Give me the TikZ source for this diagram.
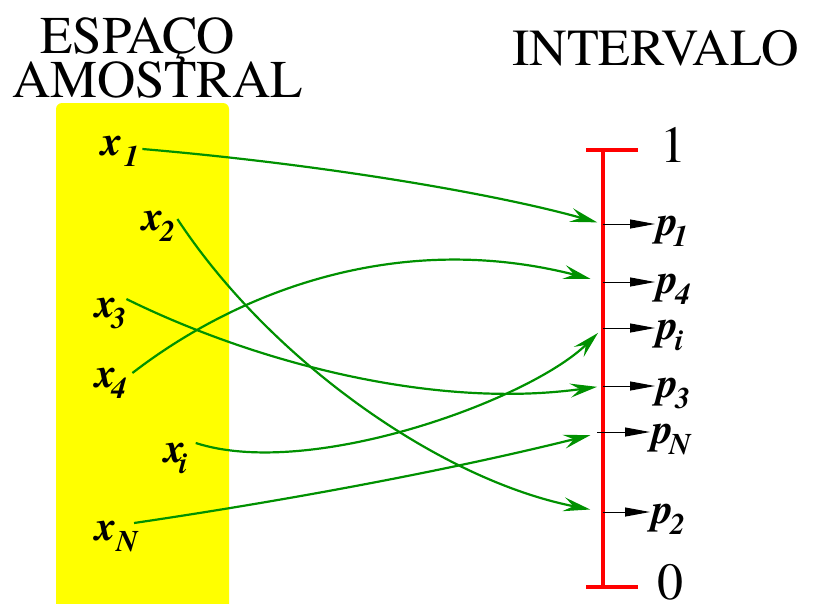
\documentclass[tikz,border=0pt]{standalone}
\usepackage{fontspec}
\setmainfont{texgyretermes}[Extension=.otf, UprightFont=*-regular, BoldFont=*-bold,
  ItalicFont=*-italic, BoldItalicFont=*-bolditalic]
\usetikzlibrary{positioning,arrows.meta}
\definecolor{mapc}{RGB}{0,145,0}
\definecolor{boxc}{RGB}{255,255,0}
\definecolor{axisc}{RGB}{255,0,0}
\newcommand\lsub[2][-2pt]{\kern#1\raisebox{-11pt}{\fontsize{30}{30}\selectfont #2}}
\tikzset{
  title/.style   = {anchor=base west, inner sep=0pt, font=\fontsize{53}{53}\selectfont},
  elem/.style    = {anchor=base west, inner sep=0pt,
                    font=\fontsize{42}{42}\selectfont\bfseries\itshape},
  prob/.style    = {inner ysep=0pt, inner xsep=2pt, text height=22pt, text depth=0pt,
                    font=\fontsize{42}{42}\selectfont\bfseries\itshape},
  map/.style     = {draw=mapc, line width=2.2pt, -{Stealth[length=27pt,width=14pt,inset=10pt]}},
  tickarr/.style = {draw=black, line width=1pt, -{Triangle[length=25pt,width=9pt]}},
  axis/.style    = {draw=axisc, line width=3.8pt},
}
\begin{document}
\begin{tikzpicture}[x=1pt, y=-1pt]
\useasboundingbox (0,0) rectangle (821,603);

% sample space
\fill[boxc, rounded corners=6pt] (56,103) rectangle (229,615);
\node[title] (esp) at (40,53) {ESPAÇO};
\node[title] (amo) at (12,97) {AMOSTRAL};

\node[elem] (x1) at (101,155) {x\lsub[2pt]{1}};
\node[elem] (x2) at (142,230) {x\lsub[-3pt]{2}};
\node[elem] (x3) at (95,317)  {x\lsub[-5pt]{3}};
\node[elem] (x4) at (95,387)  {x\lsub[-5pt]{4}};
\node[elem] (xi) at (164,462) {x\lsub[-6pt]{i}};
\node[elem] (xN) at (95,540)  {x\lsub[0pt]{N}};

% interval
\node[title, font=\fontsize{52}{52}\selectfont] (int) at (512,65) {INTERVALO};
\coordinate (top) at (603,150);
\coordinate (bot) at (603,587);
\coordinate (t1) at (603,224);
\coordinate (t4) at (603,282);
\coordinate (ti) at (603,328);
\coordinate (t3) at (603,386);
\coordinate (tN) at (603,432);
\coordinate (t2) at (603,512);

\draw[axis] (top) -- (bot);
\draw[axis] ([xshift=-17pt]top) -- ([xshift=35pt]top);
\draw[axis] ([xshift=-17pt]bot) -- ([xshift=35pt]bot);
\node[title, font=\fontsize{52}{52}\selectfont] (one) at (660,162) {1};
\node[title, font=\fontsize{52}{52}\selectfont] (zero) at (657,599) {0};

\node[prob, right=52pt of t1] (p1) {p\lsub[-5pt]{1}};
\node[prob, right=52pt of t4] (p4) {p\lsub[-3pt]{4}};
\node[prob, right=52pt of ti] (pi) {p\lsub[-3pt]{i}};
\node[prob, right=52pt of t3] (p3) {p\lsub[-3pt]{3}};
\node[prob, right=47pt of tN] (pN) {p\lsub[-4pt]{N}};
\node[prob, right=47pt of t2] (p2) {p\lsub[-3pt]{2}};

\draw[tickarr] (t1) -- (p1.west);
\draw[tickarr] (t4) -- (p4.west);
\draw[tickarr] (ti) -- (pi.west);
\draw[tickarr] (t3) -- (p3.west);
\draw[tickarr] ([xshift=-6pt]tN) -- (pN.west);
\draw[tickarr] (t2) -- (p2.west);

% the mapping
\draw[map, shorten >=6pt] ([shift={(3pt,6pt)}]x1.base east)
  .. controls (330,165) and (500,195) .. (t1);
\draw[map, shorten >=13pt] ([shift={(2pt,11pt)}]x2.base east)
  .. controls (270,360) and (440,480) .. (t2);
\draw[map, shorten >=6pt] ([shift={(0pt,18pt)}]x3.base east)
  .. controls (250,360) and (430,410) .. (t3);
\draw[map, shorten >=13pt] ([shift={(6pt,14pt)}]x4.base east)
  .. controls (240,290) and (400,230) .. (t4);
\draw[map, shorten >=7pt] ([shift={(8pt,19pt)}]xi.base east)
  .. controls (310,480) and (530,400) .. (ti);
\draw[map, shorten >=13pt] ([shift={(-4pt,17pt)}]xN.base east)
  .. controls (290,500) and (450,470) .. (tN);

\end{tikzpicture}
\end{document}
